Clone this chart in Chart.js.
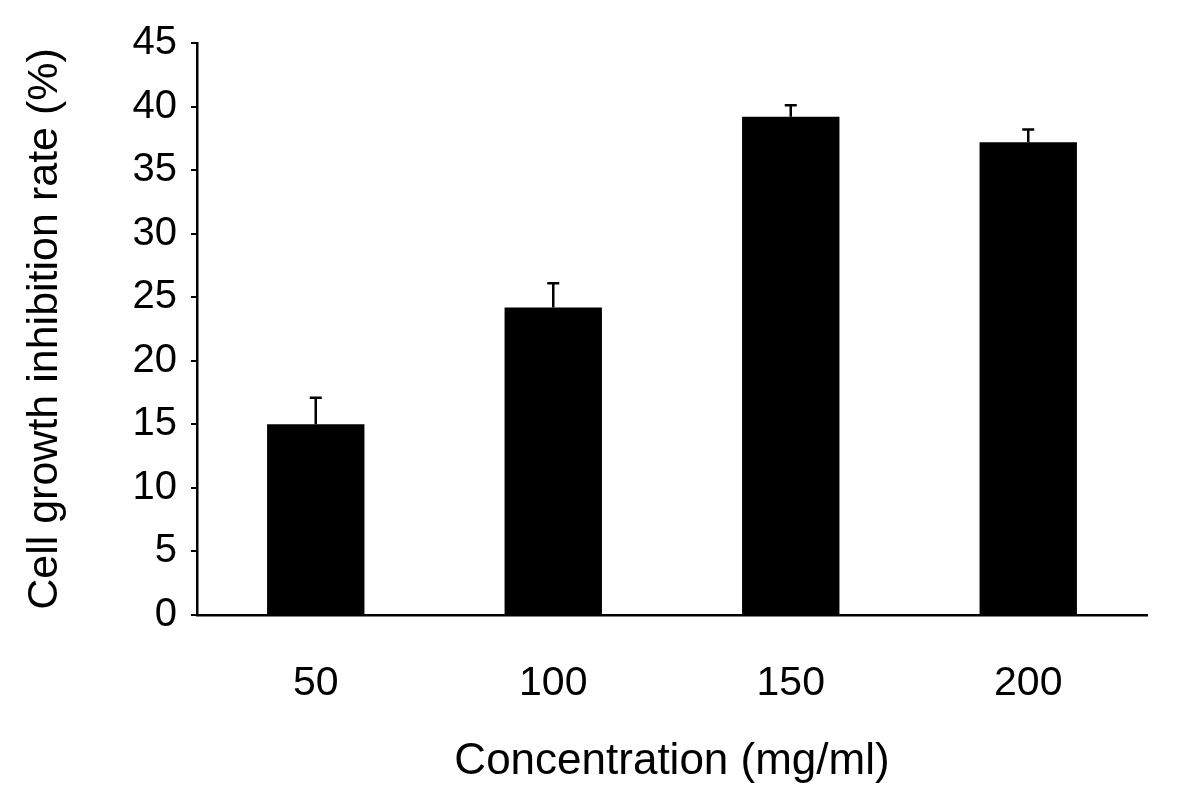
<!DOCTYPE html>
<html>
<head>
<meta charset="utf-8">
<script src="https://cdn.jsdelivr.net/npm/chart.js@4"></script>
<style>
  html, body { margin: 0; padding: 0; background: #fff; }
  #wrap { width: 1200px; height: 803px; }
</style>
</head>
<body>
<div id="wrap"><canvas id="c" width="1200" height="803"></canvas></div>
<script>
const categories = ["50", "100", "150", "200"];
const inhibitionMeans = [15.0, 24.2, 39.2, 37.2];
const inhibitionErrors = [2.1, 1.9, 0.9, 1.0];
const yTicks = [0, 5, 10, 15, 20, 25, 30, 35, 40, 45];
const xTitle = "Concentration (mg/ml)";
const yTitle = "Cell growth inhibition rate (%)";

const FONT = "'Liberation Sans', Arial, Helvetica, sans-serif";

const errorBarPlugin = {
  id: 'errorBars',
  afterDatasetsDraw(chart) {
    const ctx = chart.ctx;
    const meta = chart.getDatasetMeta(0);
    const y = chart.scales.y;
    ctx.save();
    ctx.strokeStyle = '#000';
    ctx.lineWidth = 2.5;
    meta.data.forEach((bar, i) => {
      const v = inhibitionMeans[i];
      const e = inhibitionErrors[i];
      const x = bar.x;
      const yTop = y.getPixelForValue(v + e);
      const yBase = y.getPixelForValue(v);
      ctx.beginPath();
      ctx.moveTo(x, yBase);
      ctx.lineTo(x, yTop);
      ctx.moveTo(x - 6, yTop);
      ctx.lineTo(x + 6, yTop);
      ctx.stroke();
    });
    ctx.restore();
  }
};

new Chart(document.getElementById('c'), {
  type: 'bar',
  data: {
    labels: categories,
    datasets: [{
      data: inhibitionMeans,
      backgroundColor: '#000',
      borderWidth: 0,
      barPercentage: 0.41,
      categoryPercentage: 1.0
    }]
  },
  options: {
    responsive: false,
    animation: false,
    devicePixelRatio: 1,
    layout: { padding: { left: 0, top: 43, right: 53, bottom: 0 } },
    plugins: { legend: { display: false }, tooltip: { enabled: false } },
    scales: {
      x: {
        grid: { display: false, drawTicks: false },
        border: { display: true, color: '#000', width: 2.5 },
        ticks: {
          color: '#000',
          font: { family: FONT, size: 41 },
          padding: 44
        },
        title: {
          display: true,
          text: xTitle,
          color: '#000',
          font: { family: FONT, size: 44 },
          padding: { top: 0, bottom: 15 }
        },
        afterFit(scale) { scale.height = 803 - 615; }
      },
      y: {
        min: 0,
        max: 45,
        afterBuildTicks(scale) { scale.ticks = yTicks.map(v => ({ value: v })); },
        grid: { display: true, drawOnChartArea: false, drawTicks: true, tickLength: 6, color: '#000', lineWidth: 2 },
        border: { display: true, color: '#000', width: 2.5 },
        ticks: {
          color: '#000',
          font: { family: FONT, size: 40 },
          padding: 14
        },
        title: {
          display: true,
          text: yTitle,
          color: '#000',
          font: { family: FONT, size: 43 },
          padding: { top: 19, bottom: 0 }
        },
        afterFit(scale) { scale.width = 197; }
      }
    }
  },
  plugins: [errorBarPlugin]
});
</script>
</body>
</html>
